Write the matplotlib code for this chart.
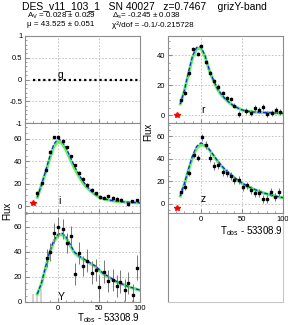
import numpy as np
import matplotlib
matplotlib.use('Agg')
import matplotlib.pyplot as plt
from matplotlib.ticker import MultipleLocator

plt.rcParams['font.family'] = ['Liberation Sans', 'DejaVu Sans']
plt.rcParams['mathtext.fontset'] = 'custom'
plt.rcParams['mathtext.rm'] = 'Liberation Sans'

# ---- data ----
model_t = [-25, -20, -15, -10, -5, 0, 5, 10, 15, 20, 25, 30, 35, 40, 45,
           50, 55, 60, 65, 70, 75, 80, 85, 90, 95, 100]

# i band
i_t = [-24.8, -19.9, -14.6, -9.8, -4.5, 0.4, 5.7, 10.6, 15.9, 20.7, 26, 30.9,
       35.7, 41, 46.3, 51.2, 56.5, 61.4, 66.7, 71.6, 76.8, 85, 90.6, 96]
i_f = [12.1, 20.6, 31.8, 48.5, 61.2, 62, 58, 52.4, 44.5, 36.4, 29.4, 24.2,
       19, 14.5, 11.5, 8.2, 7.6, 8.8, 7.6, 6.4, 5.5, 2.1, 4.5, 5.2]
i_e = [1.5] * len(i_t)
i_blue = [8, 19, 31, 44, 55, 60, 58, 52, 44, 36, 29, 23, 18, 14, 11, 8.5,
          7, 6, 5.2, 4.6, 4.2, 3.9, 3.6, 3.4, 3.2, 3]
i_green = [8, 18.5, 30, 42, 53, 57.5, 56, 50, 42, 34, 27.5, 21.5, 17, 13.5,
           10.5, 8.2, 6.8, 5.8, 5, 4.5, 4.1, 3.8, 3.5, 3.3, 3.1, 3]
i_star = (-30, 3)

# Y band
Y_t = [-13.8, -9.8, -4.5, 0.4, 5.7, 10.6, 15.9, 20.7, 26, 30.9, 35.7, 41,
       46.3, 50.4, 56.5, 61.4, 66.7, 71.6, 75.6, 81.7, 85.7, 91.1, 96]
Y_f = [35, 39.7, 55.4, 59.7, 58.1, 47, 52.8, 22.4, 39, 29, 33, 23.4, 25.6,
       12.3, 24.3, 16.8, 17.6, 12.8, 16.3, 9.6, 15, 5.6, 27.5]
Y_e = [7, 7, 8, 8, 8, 8, 8, 9, 9, 8, 9, 9, 9, 9, 9, 9, 9, 9, 9, 9, 9, 9, 10]
Y_low_t = [-30, -25, -20]
Y_low_f = [-3, -3, -3]
Y_low_e = [9, 11, 13]
Y_blue = [6.4, 15, 28, 40, 49, 54, 55, 52, 46, 40, 37, 35, 33, 31, 29, 26,
          23, 21, 19, 17, 15, 14, 12.5, 11.5, 10.5, 9.5]
Y_green = [6.4, 14.5, 27, 39, 48, 53, 54, 51, 45, 39.5, 36.5, 34.5, 32.5,
           30.5, 28.5, 25.5, 22.5, 20.5, 18.5, 16.5, 14.8, 13.8, 12.3, 11.3,
           10.3, 9.3]

# r band
r_t = [-23.6, -19.1, -14.2, -9.4, -4, 0, 6, 11, 16.3, 20.3, 26.4, 31.3, 36.6,
       40.7, 46, 54.9, 61, 66.2, 71.1, 76, 80.5, 86.2, 91.5, 96.3]
r_f = [10, 14.9, 28, 44.4, 41, 46, 35.6, 28.4, 23, 19.2, 14.9, 11.6, 11,
       6.6, 0.7, 2.8, 1.8, 5, 3.5, 5.7, 0.7, 1.8, 3.9, 2.4]
r_e = [1.5] * 14 + [2] * 10
r_blue = [7.7, 17, 29, 40, 45.5, 46, 40, 31, 24, 18, 14, 11, 8.5, 6.5, 5,
          3.8, 3, 2.6, 2.3, 2.1, 2, 1.9, 1.8, 1.7, 1.6, 1.5]
r_green = [7.7, 16.5, 28, 39, 44.5, 45, 39.5, 30.5, 23.5, 17.7, 13.7, 10.8,
           8.3, 6.4, 4.9, 3.7, 3, 2.6, 2.3, 2.1, 2, 1.9, 1.8, 1.7, 1.6, 1.5]
r_star = (-29, 0.6)

# z band
z_t = [-23.6, -19.1, -14.2, -8.9, -4, 1.2, 6.1, 11.4, 16.3, 21.1, 26.4, 31.3,
       36.6, 40.7, 46, 50.9, 56.1, 61, 66.2, 71.1, 76, 80.5, 85.7, 90.6, 95.5]
z_f = [10.9, 15.4, 27.3, 43.6, 40.6, 59, 52.4, 40.6, 33.8, 34.7, 27.8, 27.3,
       24.3, 21.3, 21.3, 14.8, 16.3, 12.4, 9.5, 9.5, 4.2, 4.2, 10.9, 6.5, 10.9]
z_e = [3] * 6 + [3.5] * 19
z_blue = [7, 18, 31, 43, 51, 54, 52.5, 48.5, 43.5, 38.5, 34, 30, 27, 24,
          21, 18.5, 16.5, 14.5, 13, 11.5, 10, 9, 8, 7, 6.3, 5.5]
z_green = [7, 17.5, 30, 41.5, 49.5, 52.5, 51.5, 48, 43, 38, 33.5, 29.5,
           26.5, 23.5, 20.7, 18.2, 16.2, 14.3, 12.8, 11.3, 9.9, 8.9, 7.9,
           6.9, 6.2, 5.4]
z_star = (-29, -3.8)

# g band: flat zero model
g_t = [-30, 97]
g_f = [0, 0]

W, H = 288, 325
fig = plt.figure(figsize=(W / 100, H / 100), dpi=100)


def box(x0, top, x1, bottom):
    return [x0 / W, 1 - bottom / H, (x1 - x0) / W, (bottom - top) / H]


frame_c = '#8c8c8c'


def style(ax, ylim, ymaj, ymin, xlabels):
    ax.set_xlim(-40, 100)
    ax.set_ylim(*ylim)
    ax.xaxis.set_major_locator(MultipleLocator(50))
    ax.xaxis.set_minor_locator(MultipleLocator(10))
    ax.yaxis.set_major_locator(MultipleLocator(ymaj))
    ax.yaxis.set_minor_locator(MultipleLocator(ymin))
    ax.tick_params(which='both', direction='in', top=False, right=False,
                   color=frame_c, labelsize=5.5, pad=2)
    ax.tick_params(which='major', length=3)
    ax.tick_params(which='minor', length=1.5)
    if not xlabels:
        ax.tick_params(axis='x', labelbottom=False)
    for s in ax.spines.values():
        s.set_color(frame_c)
        s.set_linewidth(0.8)
    ax.grid(True, which='major', color='#bbbbbb', ls=(0, (2, 2)), lw=0.6)
    ax.set_axisbelow(True)


def band(ax, t, f, e, blue, green, star, label):
    ax.errorbar(t, f, yerr=e, fmt='s', ms=2, color='black',
                ecolor='#777777', elinewidth=0.7, capsize=0, zorder=4)
    ax.plot(model_t, green, color='#44ee44', lw=2.2, alpha=0.85, zorder=2)
    ax.plot(model_t, blue, color='#1a1aff', lw=0.9, ls=(0, (3, 1.5)), zorder=3)
    if star is not None:
        ax.plot(star[0], star[1], marker='*', color='red', ms=4, ls='none', zorder=5)
    ax.text(0, 0, label, ha='left', va='bottom', fontsize=7.5, zorder=6)


# empty pad in the lower right, drawn first so it does not hide z tick labels
ax_e = fig.add_axes(box(168, 213, 283, 302))
ax_e.set_xticks([])
ax_e.set_yticks([])
ax_e.patch.set_visible(False)
for s in ax_e.spines.values():
    s.set_color('#c8c8c8')
    s.set_linewidth(0.8)
ax_e.spines['left'].set_color(frame_c)
ax_e.spines['top'].set_visible(False)

# left column
ax_g = fig.add_axes(box(25, 36, 140, 123))
style(ax_g, (-1, 1), 0.5, 0.1, False)
ax_g.plot(g_t, g_f, color='black', lw=1.6, ls=(0, (1, 1.3)))
ax_g.text(0, 0, 'g', ha='left', va='bottom', fontsize=7.5)
ax_g.yaxis.set_major_formatter(plt.FuncFormatter(lambda v, p: '%g' % v))

ax_i = fig.add_axes(box(25, 123, 140, 213))
style(ax_i, (-6, 74), 20, 5, False)
band(ax_i, i_t, i_f, i_e, i_blue, i_green, i_star, 'i')

ax_Y = fig.add_axes(box(25, 213, 140, 302))
style(ax_Y, (0, 71), 20, 5, True)
ax_Y.errorbar(Y_low_t, Y_low_f, yerr=Y_low_e, fmt='none', ecolor='#cccccc',
              elinewidth=1.2, capsize=0)
band(ax_Y, Y_t, Y_f, Y_e, Y_blue, Y_green, None, 'Y')

# right column
ax_r = fig.add_axes(box(168, 36, 283, 123))
style(ax_r, (-5, 53), 20, 5, False)
band(ax_r, r_t, r_f, r_e, r_blue, r_green, r_star, 'r')

ax_z = fig.add_axes(box(168, 123, 283, 213))
style(ax_z, (-8, 71.5), 20, 5, True)
band(ax_z, z_t, z_f, z_e, z_blue, z_green, z_star, 'z')

# texts
fig.text(22 / W, 1 - 7 / H, 'DES_v11_103_1   SN 40027   z=0.7467    grizY-band',
         fontsize=7.5, ha='left', va='center')
fig.text(27 / W, 1 - 16 / H, r'A$_{\rm V}$ = 0.028 ± 0.029', fontsize=5.8,
         ha='left', va='center')
fig.text(27 / W, 1 - 25 / H, 'μ = 43.525 ± 0.051', fontsize=5.8,
         ha='left', va='center')
fig.text(112 / W, 1 - 16 / H, r'Δ$_{\rm s}$= -0.245 ± 0.038', fontsize=5.8,
         ha='left', va='center')
fig.text(112 / W, 1 - 25 / H, 'χ²/dof = -0.1/-0.215728', fontsize=5.8,
         ha='left', va='center')

fig.text(7 / W, 1 - 211 / H, 'Flux', rotation=90, fontsize=7, ha='center', va='center')
fig.text(148 / W, 1 - 132 / H, 'Flux', rotation=90, fontsize=7, ha='center', va='center')

fig.text(140 / W, 1 - 318 / H, r'T$_{\rm obs}$ - 53308.9', fontsize=7,
         ha='right', va='center')
fig.text(283 / W, 1 - 231 / H, r'T$_{\rm obs}$ - 53308.9', fontsize=7,
         ha='right', va='center')

fig.savefig('out.png', dpi=100)
